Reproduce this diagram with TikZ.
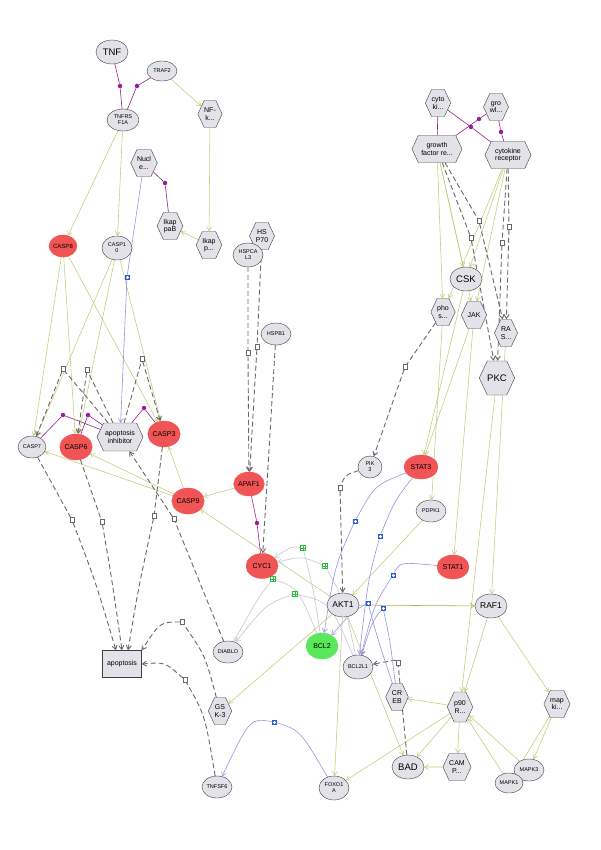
\documentclass[tikz,border=0pt]{standalone}
\usepackage{fontspec}
\setmainfont{Liberation Sans}
\usetikzlibrary{arrows.meta, shapes.geometric, shapes.symbols, positioning}
\definecolor{actgreen}{RGB}{196,202,120}
\definecolor{actdark}{RGB}{170,172,70}
\definecolor{bindpurple}{RGB}{150,30,150}
\definecolor{exprblue}{RGB}{150,150,228}
\definecolor{markblue}{RGB}{40,90,220}
\definecolor{locgray}{RGB}{205,205,215}
\definecolor{markgreen}{RGB}{40,190,60}
\definecolor{nodegray}{RGB}{226,226,232}
\definecolor{nodered}{RGB}{240,84,84}
\definecolor{nodegreen}{RGB}{90,232,90}
\definecolor{dashgray}{RGB}{105,105,105}
\pgfdeclarelayer{bg}
\pgfsetlayers{bg,main}

\begin{document}
\begin{tikzpicture}[x=1pt, y=-1pt,
    gn/.style={ellipse, draw=black!75, fill=nodegray, inner sep=0pt, align=center,
      minimum width=30pt, minimum height=22pt, font=\fontsize{5.5}{6}\selectfont},
    rn/.style={gn, draw=nodered, fill=nodered, font=\fontsize{7}{8}\selectfont},
    hx/.style={signal, signal to=west and east, signal pointer angle=130, draw=black!75,
      fill=nodegray, inner sep=0pt, align=center, minimum width=22pt, minimum height=27pt,
      font=\fontsize{7}{7.5}\selectfont},
    big/.style={font=\fontsize{9.5}{10}\selectfont},
    act/.style={actgreen, line width=0.55pt, -{Straight Barb[length=4pt,width=5pt]}},
    bind/.style={bindpurple, line width=0.6pt},
    bdot/.style={circle, fill=bindpurple, inner sep=0pt, minimum size=4.5pt},
    ind/.style={dashgray, line width=0.9pt, dash pattern=on 5pt off 3pt,
      -{Straight Barb[length=4pt,width=5pt]}},
    imk/.style={rectangle, draw=dashgray, fill=white, line width=0.5pt, inner sep=0pt,
      minimum width=4pt, minimum height=5pt},
    expr/.style={exprblue, line width=0.6pt, -{Straight Barb[length=4pt,width=5pt]}},
    emk/.style={rectangle, draw=markblue, fill=markblue!75, inner sep=0pt, minimum size=4.5pt,
      path picture={\draw[white, line width=0.6pt] (path picture bounding box.north) -- (path picture bounding box.south)
        (path picture bounding box.west) -- (path picture bounding box.east);}},
    loc/.style={locgray, line width=0.7pt, -{Straight Barb[length=4pt,width=5pt]}},
    lmk/.style={rectangle, draw=markgreen, fill=white, line width=0.7pt, inner sep=0pt, minimum size=4.5pt,
      path picture={\draw[markgreen, line width=0.5pt] (path picture bounding box.north) -- (path picture bounding box.south)
        (path picture bounding box.west) -- (path picture bounding box.east);}}]

\useasboundingbox (0,0) rectangle (600,850);
\begin{pgfonlayer}{bg}
  \fill[white] (0,0) rectangle (600,850);
\end{pgfonlayer}

% recettore TNF
\node[gn, big, minimum width=32pt, minimum height=24pt] (TNF) at (112,52) {TNF};
\node[gn, minimum height=20pt] (TRAF2) at (162,71) {TRAF2};
\node[gn, minimum width=32pt] (TNFR) at (123,120) {TNFRS\\F1A};
\node[hx] (NFk) at (210,114) {NF-\\k...};
\node[hx] (Nucle) at (144,163) {Nucl\\e...};
\node[hx] (IkapB) at (170,226) {Ikap\\paB};
\node[hx] (Ikapp) at (209,245) {Ikap\\p...};
\node[hx] (HSP70) at (262,236) {HS\\P70};
\node[gn, minimum height=24pt] (HSPCA) at (248,255) {HSPCA\\L3};
\node[gn] (HSPB1) at (276,334) {HSPB1};
\node[rn, minimum width=28pt, font=\fontsize{6}{7}\selectfont] (CASP8) at (63,246) {CASP8};
\node[gn, minimum height=24pt] (CASP10) at (117,248) {CASP1\\0};

% recettori a destra
\node[hx, minimum width=20pt] (cyto) at (438,103) {cyto\\ki...};
\node[hx, minimum width=20pt] (gro) at (496,107) {gro\\wl...};
\node[hx, minimum width=50pt] (growth) at (437,149) {growth\\factor re...};
\node[hx, minimum width=46pt] (cytrec) at (508,155) {cytokine\\receptor};
\node[gn, big, minimum width=32pt, minimum height=24pt] (CSK) at (466,279) {CSK};
\node[hx] (phos) at (443,312) {pho\\s...};
\node[hx] (JAK) at (474,315) {JAK};
\node[hx] (RAS) at (506,333) {RA\\S...};
\node[hx, big, minimum width=30pt, minimum height=34pt] (PKC) at (497,378) {PKC};

% caspasi
\node[gn, minimum width=28pt] (CASP7) at (32,447) {CASP7};
\node[rn, minimum width=32pt, minimum height=26pt] (CASP6) at (76,447) {CASP6};
\node[hx, minimum width=46pt, minimum height=28pt] (apoinh) at (120,437) {apoptosis\\inhibitor};
\node[rn, minimum width=30pt, minimum height=26pt] (CASP3) at (164,434) {CASP3};
\node[rn, minimum height=24pt] (APAF1) at (249,484) {APAF1};
\node[rn, minimum width=32pt, minimum height=26pt] (CASP9) at (188,501) {CASP9};
\node[rn, minimum width=32pt, minimum height=25pt] (CYC1) at (262,566) {CYC1};

% segnali
\node[gn, minimum width=24pt] (PIK3) at (370,467) {PIK\\3};
\node[rn, minimum width=34pt, minimum height=24pt] (STAT3) at (421,467) {STAT3};
\node[gn] (PDPK1) at (431,511) {PDPK1};
\node[rn, minimum width=32pt, minimum height=24pt] (STAT1) at (453,567) {STAT1};
\node[gn, minimum width=32pt, minimum height=24pt, font=\fontsize{8.5}{9}\selectfont] (AKT1) at (343,605) {AKT1};
\node[gn, minimum width=32pt, minimum height=24pt, font=\fontsize{8.5}{9}\selectfont] (RAF1) at (491,606) {RAF1};
\node[draw=black!75, fill=nodegray, minimum width=39pt, minimum height=27pt, inner sep=0pt,
  font=\fontsize{7}{8}\selectfont] (apoptosis) at (122,664) {apoptosis};
\node[gn, draw=nodegreen, fill=nodegreen, minimum width=32pt, minimum height=26pt,
  font=\fontsize{7}{8}\selectfont] (BCL2) at (322,646) {BCL2};
\node[gn, minimum height=24pt] (BCL2L1) at (358,667) {BCL2L1};
\node[hx] (CREB) at (397,697) {CR\\EB};
\node[gn] (DIABLO) at (228,652) {DIABLO};
\node[hx] (GSK3) at (220,711) {GS\\K-3};
\node[hx, minimum width=24pt, minimum height=30pt] (p90R) at (460,707) {p90\\R...};
\node[hx] (mapki) at (557,704) {map\\ki...};
\node[gn, big, minimum width=32pt, minimum height=24pt] (BAD) at (408,767) {BAD};
\node[hx, minimum width=24pt] (CAMP) at (457,767) {CAM\\P...};
\node[gn] (MAPK3) at (529,770) {MAPK3};
\node[gn, minimum width=28pt, minimum height=20pt] (MAPK1) at (509,783) {MAPK1};
\node[gn] (TNFSF6) at (217,787) {TNFSF6};
\node[gn, minimum height=24pt] (FOXO1A) at (334,788) {FOXO1\\A};

% punti di legame e marcatori
\node[bdot] (d1) at (120,86) {};
\node[bdot] (d2) at (137,86) {};
\node[bdot] (d3) at (165,183) {};
\node[bdot] (d4) at (63,415) {};
\node[bdot] (d5) at (88,415) {};
\node[bdot] (d6) at (144,408) {};
\node[bdot] (d7) at (257,523) {};
\node[bdot] (d8) at (471,127) {};
\node[bdot] (d9) at (479,119) {};
\node[bdot] (d10) at (501,132) {};

\node[imk] (m1) at (63,369) {};
\node[imk] (m2) at (87,370) {};
\node[imk] (m3) at (142,359) {};
\node[imk] (m4) at (72,520) {};
\node[imk] (m5) at (102,522) {};
\node[imk] (m6) at (154,516) {};
\node[imk] (m7) at (174,519) {};
\node[imk] (m8) at (182,622) {};
\node[imk] (m9) at (185,680) {};
\node[imk] (m10) at (398,663) {};
\node[imk] (m11) at (479,221) {};
\node[imk] (m12) at (471,238) {};
\node[imk] (m13) at (509,227) {};
\node[imk] (m14) at (502,243) {};
\node[imk] (m15) at (405,367) {};
\node[imk] (m16) at (340,488) {};
\node[imk] (m17) at (248,353) {};
\node[imk] (m18) at (257,347) {};

\node[emk] (e1) at (127,277) {};
\node[emk] (e2) at (355,521) {};
\node[emk] (e3) at (380,536) {};
\node[emk] (e4) at (393,575) {};
\node[emk] (e5) at (368,603) {};
\node[emk] (e6) at (383,608) {};
\node[emk] (e7) at (274,722) {};

\node[lmk] (l1) at (303,548) {};
\node[lmk] (l2) at (325,566) {};
\node[lmk] (l3) at (273,579) {};
\node[lmk] (l4) at (295,594) {};

\begin{pgfonlayer}{bg}
% legami
\draw[bind] (TNF) -- (d1) -- (TNFR);
\draw[bind] (TRAF2) -- (d2) -- (TNFR);
\draw[bind] (Nucle) -- (d3) -- (IkapB);
\draw[bind] (CASP7) -- (d4) -- (apoinh);
\draw[bind] (CASP6) -- (d5) -- (apoinh);
\draw[bind] (CASP3) -- (d6) -- (apoinh);
\draw[bind] (APAF1) -- (d7) -- (CYC1);
\draw[bind] (cyto) -- (d8) -- (cytrec);
\draw[bind] (gro) -- (d9) -- (growth);
\draw[bind] (gro) -- (d10) -- (cytrec);
\draw[bind] (cyto) -- (growth);

% attivazioni
\draw[act] (TRAF2) -- (NFk);
\draw[act] (NFk) -- (Ikapp);
\draw[act] (Ikapp) -- (IkapB);
\draw[act] (TNFR) -- (CASP8);
\draw[act] (TNFR) -- (CASP10);
\draw[act] (CASP8) -- (CASP7);
\draw[act] (CASP8) -- (CASP6);
\draw[act] (CASP8) -- (CASP3);
\draw[act] (CASP10) -- (CASP7);
\draw[act] (CASP10) -- (CASP6);
\draw[act] (CASP10) -- (CASP3);
\draw[act] (CASP9) -- (CASP7);
\draw[act] (CASP9) -- (CASP6);
\draw[act] (CASP9) -- (CASP3);
\draw[act] (APAF1) -- (CASP9);
\draw[act] (AKT1) -- (CASP9);
\draw[act] (growth) -- (CSK);
\draw[act] (cytrec) -- (CSK);
\draw[act] (growth) -- (phos);
\draw[act] (cytrec) -- (phos);
\draw[act] (growth) -- (JAK);
\draw[act] (cytrec) -- (JAK);
\draw[act] (CSK) -- (STAT3);
\draw[act] (JAK) -- (STAT3);
\draw[act] (JAK) -- (STAT1);
\draw[act] (phos) -- (PDPK1);
\draw[act] (PDPK1) -- (AKT1);
\draw[act] (RAS) -- (RAF1);
\draw[act] (PKC) -- (p90R);
\draw[act] (RAF1) -- (p90R);
\draw[act] (RAF1) -- (mapki);
\draw[act] (mapki) -- (MAPK3);
\draw[act] (mapki) -- (MAPK1);
\draw[act] (MAPK3) -- (p90R);
\draw[act] (MAPK1) -- (p90R);
\draw[act] (p90R) -- (CREB);
\draw[act] (p90R) -- (BAD);
\draw[act] (p90R) -- (CAMP);
\draw[act] (CAMP) -- (BAD);
\draw[act] (p90R) -- (FOXO1A);
\draw[act, actdark] (AKT1) -- (RAF1);
\draw[act] (AKT1) -- (GSK3);
\draw[act] (AKT1) -- (BAD);
\draw[act] (AKT1) -- (FOXO1A);

% effetti indiretti
\draw[ind] (apoinh) -- (m1) -- (CASP7);
\draw[ind] (apoinh) -- (m2) -- (CASP6);
\draw[ind] (apoinh) -- (m3) -- (CASP3);
\draw[ind] (CASP7) -- (m4) .. controls (95,580) .. ([xshift=-6pt]apoptosis.north);
\draw[ind] (CASP6) -- (m5) .. controls (112,580) .. (apoptosis.north);
\draw[ind] (CASP3) -- (m6) .. controls (138,590) .. ([xshift=6pt]apoptosis.north);
\draw[ind] (DIABLO) -- (m7) -- (apoinh);
\draw[ind] (GSK3) .. controls (205,655) .. (m8) .. controls (160,622) .. (apoptosis.north east);
\draw[ind] (TNFSF6) .. controls (205,715) .. (m9) .. controls (165,662) .. (apoptosis.east);
\draw[ind] (BAD) -- (m10) .. controls (395,660) .. (BCL2L1);
\draw[ind] (growth) -- (m11) -- (RAS);
\draw[ind] (growth) -- (m12) -- (PKC);
\draw[ind] (cytrec) -- (m13) -- (RAS);
\draw[ind] (cytrec) -- (m14) -- (PKC);
\draw[ind] (phos) -- (m15) -- (PIK3);
\draw[ind] (PIK3) .. controls (345,475) .. (m16) -- (AKT1);
\draw[ind] (HSPCA) -- (m17) -- (APAF1);
\draw[ind] (HSP70) -- (m18) -- (APAF1);
\draw[ind] (HSPB1) -- (CYC1);

% espressione
\draw[expr] (Nucle) -- (e1) -- (apoinh);
\draw[expr] (STAT3) .. controls (375,485) .. (e2) .. controls (335,565) .. (BCL2);
\draw[expr] (STAT3) .. controls (395,500) .. (e3) .. controls (368,580) .. (BCL2L1);
\draw[expr] (STAT1) .. controls (400,562) .. (e4) .. controls (374,605) .. (BCL2L1);
\draw[expr] (CREB) .. controls (378,640) .. (e5) .. controls (352,612) .. (BCL2);
\draw[expr] (CREB) .. controls (390,640) .. (e6) .. controls (372,622) .. (BCL2L1);
\draw[expr] (FOXO1A) .. controls (300,730) .. (e7) .. controls (250,718) .. (TNFSF6);

% rilascio mitocondriale
\draw[loc] (BCL2) .. controls (314,592) .. (l1) .. controls (292,546) .. (CYC1);
\draw[loc] (BCL2L1) .. controls (344,600) .. (l2) .. controls (302,556) .. (CYC1);
\draw[loc] (BCL2) .. controls (298,588) .. (l3) .. controls (258,598) .. (DIABLO);
\draw[loc] (BCL2L1) .. controls (330,602) .. (l4) .. controls (266,604) .. (DIABLO);
\end{pgfonlayer}
\end{tikzpicture}
\end{document}
